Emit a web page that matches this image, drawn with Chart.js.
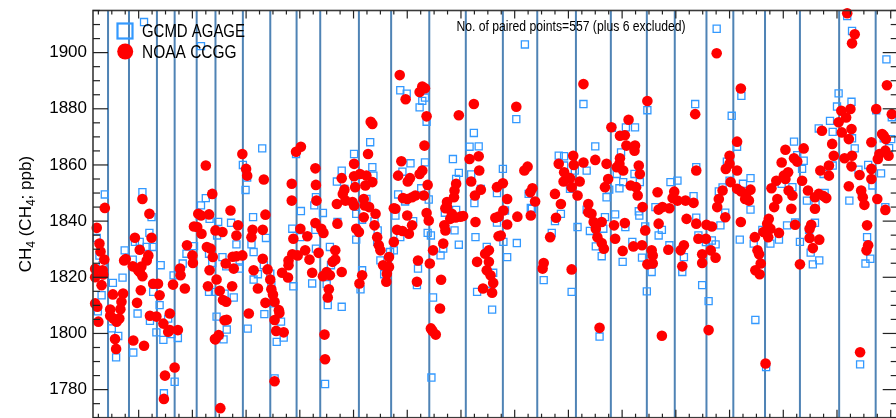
<!DOCTYPE html>
<html>
<head>
<meta charset="utf-8">
<script src="https://cdn.jsdelivr.net/npm/chart.js@4.4.1/dist/chart.umd.min.js"></script>
<style>
  html, body { margin: 0; padding: 0; overflow: hidden; background: #fff; }
  canvas { display: block; }
</style>
</head>
<body>
<canvas id="ch4" width="904" height="424"></canvas>
<script>
// Axis extents: time in decimal years, CH4 in ppb
const timeRange = [1993.15, 2008.13];
const ch4Range = [1770, 1915];
const ch4TickValues = [1780, 1800, 1820, 1840, 1860, 1880, 1900];

const seriesNames = ['GCMD AGAGE', 'NOAA CCGG'];
const pairNote = 'No. of paired points=557 (plus 6 excluded)';
const axisTitle = ['CH', '4', ' (CH', '4', '; ppb)'];

// Flask batch boundaries (decimal year)
const breakTimes = [1993.43, 1993.82, 1994.34, 1994.67, 1995.08, 1995.43, 1995.94, 1996.45,
  1996.94, 1997.38, 1998.10, 1998.70, 1999.41, 2000.09, 2000.78, 2001.42, 2002.14, 2002.79,
  2003.46, 2003.98, 2004.57, 2005.07, 2005.66, 2006.31, 2007.04, 2007.72];

// AGAGE GC-MD in situ values matched to flask sampling times [year, ppb]
const gcmdPoints = [
  [1993.22,1834.0],[1993.24,1807.9],[1993.27,1827.7],[1993.31,1813.6],[1993.33,1824.3],[1993.37,1849.5],
  [1993.50,1801.8],[1993.52,1818.0],[1993.58,1791.5],[1993.62,1799.1],[1993.70,1819.9],[1993.74,1829.6],
  [1993.89,1826.3],[1993.90,1793.2],[1993.93,1832.6],[1993.98,1807.1],[1994.02,1832.6],[1994.07,1850.3],
  [1994.10,1910.9],[1994.15,1830.8],[1994.20,1835.8],[1994.21,1804.5],[1994.24,1841.4],[1994.26,1830.8],
  [1994.27,1814.8],[1994.33,1800.4],[1994.39,1810.1],[1994.41,1824.3],[1994.46,1797.7],[1994.47,1778.7],
  [1994.55,1805.3],[1994.61,1799.8],[1994.65,1820.7],[1994.67,1782.8],[1994.73,1798.4],[1994.82,1824.9],
  [1994.89,1828.4],[1995.03,1831.1],
  [1995.14,1842.0],[1995.16,1845.6],[1995.16,1902.3],[1995.25,1848.2],[1995.31,1828.4],[1995.31,1814.8],
  [1995.32,1840.8],[1995.37,1825.1],[1995.37,1849.5],[1995.42,1814.8],[1995.45,1806.0],[1995.46,1834.9],
  [1995.48,1839.7],[1995.50,1799.4],[1995.56,1827.2],[1995.58,1797.9],[1995.60,1814.2],[1995.63,1823.9],
  [1995.64,1801.4],[1995.72,1839.4],[1995.77,1812.8],[1995.82,1831.7],[1995.88,1826.0],[1995.88,1823.1],
  [1995.94,1860.0],[1995.99,1851.1],[1996.02,1855.5],[1996.03,1801.7],
  [1996.10,1831.7],[1996.13,1841.4],[1996.14,1829.0],[1996.14,1819.2],[1996.22,1821.1],[1996.30,1865.9],
  [1996.33,1824.3],[1996.34,1806.9],[1996.37,1834.0],[1996.45,1821.3],[1996.47,1817.2],[1996.50,1810.7],
  [1996.53,1784.0],[1996.57,1797.0],[1996.65,1804.2],[1996.70,1798.5],[1996.86,1837.3],[1996.88,1816.8],
  [1996.93,1863.9],
  [1997.01,1834.3],[1997.02,1843.6],[1997.23,1817.8],[1997.27,1845.6],[1997.29,1836.9],[1997.30,1830.2],
  [1997.30,1848.5],[1997.43,1842.9],[1997.47,1782.0],[1997.50,1817.6],[1997.52,1810.1],[1997.56,1830.8],
  [1997.58,1824.3],[1997.69,1854.1],[1997.70,1839.7],[1997.78,1858.0],[1997.78,1809.5],[1997.83,1851.5],
  [1998.01,1863.9],[1998.05,1842.6],[1998.05,1833.4],[1998.03,1854.5],
  [1998.13,1815.7],[1998.16,1822.5],[1998.16,1840.5],[1998.24,1847.9],[1998.31,1868.1],[1998.35,1859.2],
  [1998.37,1856.2],[1998.39,1840.0],[1998.44,1832.6],[1998.45,1836.7],[1998.50,1826.0],[1998.57,1821.1],
  [1998.68,1829.0],[1998.75,1829.6],[1998.78,1842.0],[1998.83,1849.5],
  [1998.87,1886.6],[1998.87,1834.3],[1998.91,1857.6],[1998.96,1847.0],[1998.99,1885.4],[1999.06,1860.6],
  [1999.11,1840.0],[1999.18,1817.2],[1999.20,1823.1],[1999.23,1880.5],[1999.26,1851.7],[1999.28,1882.8],
  [1999.33,1884.0],[1999.33,1860.9],[1999.36,1875.4],[1999.38,1835.8],[1999.40,1847.7],[1999.44,1834.9],
  [1999.45,1784.3],[1999.48,1812.8],
  [1999.62,1827.8],[1999.67,1830.2],[1999.71,1837.0],[1999.70,1843.0],[1999.85,1862.1],[1999.88,1836.7],
  [1999.91,1855.0],[1999.96,1857.2],[1999.96,1831.6],[1999.91,1844.0],[2000.16,1866.5],[2000.19,1856.6],
  [2000.24,1871.4],[2000.25,1846.4],[2000.27,1834.3],[2000.30,1814.8],[2000.33,1866.6],
  [2000.37,1851.5],[2000.48,1830.8],[2000.56,1815.2],[2000.58,1808.5],[2000.60,1821.6],[2000.67,1850.0],
  [2000.67,1839.5],[2000.78,1858.6],[2000.79,1832.6],[2000.82,1843.8],[2000.86,1827.2],[2001.03,1876.3],
  [2001.04,1832.2],
  [2001.19,1902.9],[2001.26,1849.7],[2001.30,1844.7],[2001.32,1844.4],[2001.54,1819.0],[2001.69,1835.8],
  [2001.75,1840.0],[2001.82,1863.3],
  [2001.86,1842.6],[2001.92,1863.1],[2001.92,1859.8],[2002.03,1851.5],[2002.06,1814.8],[2002.12,1858.0],
  [2002.17,1837.9],[2002.28,1881.7],[2002.34,1858.0],[2002.34,1844.1],[2002.40,1836.5],[2002.50,1866.6],
  [2002.51,1831.0],[2002.58,1798.9],
  [2002.62,1827.5],[2002.65,1837.3],[2002.68,1841.4],[2002.71,1848.5],[2002.76,1851.2],[2002.81,1873.2],
  [2002.87,1842.4],[2002.90,1856.8],[2002.95,1851.7],[2002.98,1864.5],[2003.01,1825.5],[2003.02,1853.9],
  [2003.06,1837.9],[2003.07,1873.4],[2003.19,1832.6],[2003.23,1856.8],[2003.24,1873.4],[2003.31,1843.5],
  [2003.32,1842.0],[2003.33,1853.9],
  [2003.37,1827.0],[2003.43,1838.1],[2003.46,1815.0],[2003.47,1879.5],[2003.55,1821.9],[2003.62,1845.0],
  [2003.68,1834.9],[2003.74,1836.9],[2003.88,1831.4],[2003.90,1853.9],[2004.03,1854.4],
  [2004.12,1821.9],[2004.15,1827.2],[2004.33,1848.9],[2004.36,1881.7],[2004.38,1859.2],[2004.38,1841.2],
  [2004.42,1834.9],[2004.49,1817.2],[2004.56,1832.5],[2004.61,1811.5],[2004.67,1833.1],[2004.74,1831.7],
  [2004.76,1908.5],[2004.80,1850.6],
  [2004.83,1838.5],[2004.87,1852.0],[2004.92,1843.0],[2004.95,1861.2],[2005.00,1854.4],[2005.04,1877.5],
  [2005.14,1866.5],[2005.19,1833.4],[2005.22,1884.6],[2005.25,1853.3],[2005.39,1855.3],[2005.39,1844.1],
  [2005.45,1832.0],[2005.48,1804.8],
  [2005.61,1836.9],[2005.68,1788.0],[2005.76,1832.0],[2005.92,1833.4],[2005.97,1853.3],[2006.07,1838.5],
  [2006.17,1852.1],[2006.20,1868.3],[2006.22,1839.5],[2006.26,1863.5],
  [2006.31,1832.6],[2006.35,1858.6],[2006.38,1861.5],[2006.44,1847.3],[2006.48,1836.9],[2006.51,1828.8],
  [2006.55,1824.6],[2006.59,1839.4],[2006.60,1846.0],[2006.66,1873.0],[2006.67,1826.0],[2006.75,1856.8],
  [2006.77,1850.0],[2006.87,1875.7],[2006.92,1871.8],[2006.92,1859.8],[2007.00,1880.8],
  [2007.03,1885.5],[2007.19,1913.0],[2007.23,1847.3],[2007.27,1882.5],[2007.28,1907.7],[2007.28,1869.5],
  [2007.33,1865.9],[2007.40,1858.3],[2007.43,1789.0],[2007.46,1850.5],[2007.53,1824.9],[2007.56,1834.3],
  [2007.58,1860.0],[2007.62,1826.6],[2007.66,1852.7],[2007.73,1879.5],[2007.82,1857.0],[2007.87,1869.5],
  [2007.90,1845.0],[2007.92,1897.6],[2007.97,1866.0],[2008.01,1869.2],[2008.02,1877.0]
];

// NOAA CCGG flask values [year, ppb]
const ccggPoints = [
  [1993.19,1823.0],[1993.19,1820.0],[1993.19,1810.7],[1993.22,1837.6],[1993.23,1809.5],[1993.25,1804.2],
  [1993.27,1832.0],[1993.29,1829.2],[1993.31,1817.2],[1993.33,1822.5],[1993.34,1821.0],[1993.36,1826.3],
  [1993.37,1844.7],[1993.47,1808.5],[1993.47,1806.3],[1993.52,1813.9],[1993.53,1805.3],[1993.56,1798.0],
  [1993.58,1794.5],[1993.59,1804.2],[1993.64,1805.3],[1993.66,1808.6],[1993.68,1811.3],[1993.71,1814.2],
  [1993.73,1826.0],[1993.76,1826.5],
  [1993.89,1823.9],[1993.90,1797.5],[1993.93,1834.1],[1993.97,1810.9],[1993.99,1822.5],[1994.02,1829.8],
  [1994.02,1821.9],[1994.04,1815.4],[1994.05,1823.8],[1994.07,1820.4],[1994.07,1847.9],[1994.10,1795.6],
  [1994.15,1826.0],[1994.18,1827.8],[1994.20,1842.6],[1994.21,1806.3],[1994.24,1834.1],[1994.27,1817.7],
  [1994.33,1806.0],[1994.36,1817.7],[1994.39,1813.6],[1994.46,1803.5],[1994.49,1785.0],[1994.47,1776.7],
  [1994.55,1800.6],[1994.58,1807.1],[1994.58,1801.2],[1994.64,1817.4],[1994.67,1787.9],[1994.73,1801.2],
  [1994.77,1823.1],[1994.78,1820.7],[1994.86,1816.0],[1994.90,1831.4],[1995.00,1827.8],[1995.01,1825.1],
  [1995.03,1838.1],
  [1995.09,1837.9],[1995.11,1842.6],[1995.16,1842.0],[1995.17,1835.5],[1995.25,1859.8],[1995.27,1830.8],
  [1995.29,1816.8],[1995.31,1842.4],[1995.32,1822.5],[1995.34,1830.2],[1995.37,1849.7],[1995.38,1827.2],
  [1995.42,1798.0],[1995.43,1836.7],[1995.43,1797.9],[1995.45,1819.2],[1995.49,1799.4],[1995.51,1815.2],
  [1995.52,1773.4],[1995.56,1836.1],[1995.57,1811.9],[1995.60,1804.7],[1995.62,1824.9],[1995.63,1811.3],
  [1995.64,1804.9],[1995.71,1843.8],[1995.75,1827.3],[1995.77,1823.1],[1995.74,1816.8],[1995.82,1834.9],
  [1995.82,1827.5],[1995.85,1838.5],[1995.93,1827.8],[1995.93,1863.9],
  [1996.00,1858.6],[1996.02,1856.2],[1996.05,1807.1],[1996.10,1834.3],[1996.12,1836.9],[1996.14,1822.5],
  [1996.22,1816.0],[1996.31,1836.9],[1996.31,1826.6],[1996.33,1854.8],[1996.36,1810.9],[1996.36,1842.3],
  [1996.40,1822.8],[1996.45,1819.2],[1996.47,1815.7],[1996.50,1813.9],[1996.53,1811.3],[1996.53,1783.0],
  [1996.53,1804.8],[1996.56,1800.9],[1996.61,1808.3],[1996.62,1807.3],[1996.67,1821.6],[1996.70,1800.4],
  [1996.78,1819.9],[1996.79,1826.0],[1996.79,1824.3],[1996.85,1853.3],[1996.85,1847.3],[1996.86,1828.2],
  [1996.88,1833.7],[1996.93,1864.7],[1996.96,1827.8],
  [1997.01,1837.3],[1997.02,1866.5],[1997.10,1829.6],[1997.14,1834.6],[1997.18,1826.3],[1997.23,1821.6],
  [1997.29,1839.3],[1997.29,1858.8],[1997.30,1852.9],[1997.31,1847.3],[1997.35,1828.7],[1997.40,1837.3],
  [1997.43,1820.4],[1997.44,1835.8],[1997.46,1799.6],[1997.47,1790.8],[1997.50,1821.9],[1997.52,1812.8],
  [1997.54,1815.7],[1997.56,1820.7],[1997.61,1825.5],[1997.66,1826.3],[1997.66,1829.6],[1997.69,1846.1],
  [1997.70,1839.1],[1997.78,1821.9],[1997.78,1855.3],[1997.80,1849.7],[1997.83,1851.2],[1997.85,1847.3],
  [1997.98,1846.8],[1998.01,1860.4],[1998.01,1856.0],[1998.03,1852.1],[1998.01,1845.6],[1998.05,1837.3],
  [1998.11,1817.8],[1998.10,1836.1],
  [1998.12,1856.8],[1998.16,1820.7],[1998.19,1841.4],[1998.19,1847.9],[1998.21,1845.6],[1998.22,1852.7],
  [1998.24,1856.2],[1998.27,1863.9],[1998.29,1845.0],[1998.32,1875.4],[1998.35,1874.6],[1998.35,1853.9],
  [1998.39,1838.5],[1998.41,1842.6],[1998.44,1834.3],[1998.47,1831.4],[1998.50,1829.6],[1998.55,1824.3],
  [1998.61,1818.4],[1998.62,1821.3],[1998.66,1823.7],[1998.66,1827.2],[1998.75,1832.6],[1998.75,1844.6],
  [1998.78,1844.4],[1998.81,1836.9],[1998.83,1856.2],
  [1998.86,1892.0],[1998.89,1861.3],[1998.91,1836.5],[1998.92,1848.2],[1998.97,1883.4],[1999.00,1842.0],
  [1999.00,1847.9],[1999.01,1854.1],[1999.03,1835.5],[1999.05,1855.3],[1999.09,1848.5],[1999.09,1838.5],
  [1999.15,1849.1],[1999.18,1818.4],[1999.20,1826.0],[1999.23,1886.0],[1999.23,1856.8],[1999.28,1887.9],
  [1999.28,1858.0],[1999.31,1849.1],[1999.32,1866.9],[1999.33,1887.3],[1999.36,1877.3],[1999.36,1842.9],
  [1999.38,1852.9],[1999.40,1840.2],[1999.42,1824.9],[1999.44,1801.8],[1999.47,1800.9],[1999.48,1829.6],
  [1999.53,1799.6],
  [1999.61,1808.9],[1999.63,1819.1],[1999.67,1832.0],[1999.69,1838.5],[1999.71,1836.7],[1999.71,1844.6],
  [1999.74,1845.0],[1999.74,1846.8],[1999.80,1840.8],[1999.83,1842.6],[1999.87,1848.5],[1999.88,1850.9],
  [1999.90,1841.3],[1999.91,1853.3],[1999.96,1877.7],[1999.99,1841.6],[2000.04,1841.8],[2000.16,1862.1],
  [2000.19,1854.1],[2000.24,1881.7],[2000.26,1849.1],[2000.27,1839.7],[2000.30,1825.5],[2000.33,1863.1],
  [2000.34,1858.0],[2000.37,1851.2],[2000.41,1816.0],[2000.45,1828.4],[2000.48,1822.5],[2000.52,1829.6],
  [2000.52,1825.5],[2000.55,1820.7],[2000.58,1814.5],[2000.60,1818.0],[2000.64,1841.2],[2000.67,1852.1],
  [2000.70,1841.6],[2000.70,1834.6],[2000.74,1834.9],[2000.78,1853.5],[2000.79,1843.8],[2000.86,1847.9],
  [2000.86,1838.8],[2001.03,1880.7],[2001.05,1841.6],
  [2001.18,1858.0],[2001.24,1859.4],[2001.29,1850.3],[2001.30,1842.0],[2001.33,1851.7],[2001.38,1847.0],
  [2001.52,1823.1],[2001.54,1825.1],[2001.66,1834.3],[2001.75,1849.7],[2001.77,1841.2],[2001.82,1860.4],
  [2001.86,1846.1],[2001.91,1854.1],[2001.92,1857.4],[2002.03,1855.3],[2002.06,1852.1],[2002.06,1822.8],
  [2002.09,1863.3],[2002.10,1860.0],[2002.17,1849.1],[2002.21,1854.1],[2002.28,1888.8],[2002.28,1860.9],
  [2002.37,1846.1],[2002.37,1843.2],[2002.43,1842.6],[2002.47,1839.7],[2002.50,1861.8],[2002.51,1837.3],
  [2002.54,1834.3],
  [2002.58,1802.0],[2002.62,1832.2],[2002.62,1839.7],[2002.66,1830.2],[2002.68,1852.1],[2002.71,1860.4],
  [2002.74,1855.0],[2002.80,1873.4],[2002.85,1838.5],[2002.87,1833.7],[2002.90,1859.2],[2002.95,1860.4],
  [2002.96,1862.4],[2002.96,1870.4],[2003.01,1829.4],[2003.02,1858.0],[2003.05,1870.6],[2003.05,1839.3],
  [2003.08,1866.9],[2003.12,1876.1],[2003.16,1852.7],[2003.21,1831.0],[2003.23,1865.1],[2003.24,1866.9],
  [2003.26,1852.1],[2003.29,1849.1],[2003.31,1859.8],[2003.33,1856.8],
  [2003.37,1831.4],[2003.38,1845.0],[2003.43,1836.7],[2003.47,1882.8],[2003.47,1824.6],[2003.55,1829.6],
  [2003.57,1827.8],[2003.57,1824.9],[2003.66,1850.3],[2003.68,1844.1],[2003.68,1839.1],[2003.74,1799.2],
  [2003.75,1845.0],[2003.86,1829.8],[2003.88,1844.6],[2003.94,1848.2],[2003.97,1850.5],[2004.03,1847.3],
  [2004.09,1829.6],[2004.12,1823.9],[2004.15,1831.4],[2004.18,1847.3],[2004.20,1840.8],[2004.33,1846.5],
  [2004.36,1878.1],[2004.38,1858.0],[2004.38,1839.1],[2004.42,1833.7],[2004.49,1828.2],[2004.49,1825.1],
  [2004.56,1833.7],[2004.57,1838.7],[2004.61,1801.2],[2004.65,1829.6],[2004.67,1838.1],[2004.74,1827.0],
  [2004.76,1899.8],[2004.77,1845.0],[2004.80,1847.9],
  [2004.87,1850.9],[2004.92,1841.4],[2004.93,1858.6],[2005.00,1863.3],[2005.00,1860.4],[2005.02,1853.9],
  [2005.14,1868.3],[2005.14,1858.0],[2005.14,1851.5],[2005.21,1887.2],[2005.21,1850.6],[2005.21,1839.7],
  [2005.29,1847.9],[2005.31,1849.7],[2005.36,1847.3],[2005.39,1851.2],[2005.47,1834.3],[2005.48,1822.5],
  [2005.52,1829.6],
  [2005.55,1828.2],[2005.56,1821.1],[2005.58,1824.9],[2005.63,1836.1],[2005.67,1789.3],[2005.70,1839.1],
  [2005.72,1834.3],[2005.73,1840.8],[2005.76,1837.3],[2005.78,1851.7],[2005.83,1845.0],[2005.87,1854.4],
  [2005.89,1847.9],[2005.92,1835.8],[2005.97,1860.9],[2006.01,1856.2],[2006.04,1865.4],[2006.04,1855.0],
  [2006.09,1857.4],[2006.10,1850.9],[2006.15,1844.4],[2006.17,1849.1],[2006.20,1862.4],[2006.22,1838.7],
  [2006.26,1861.2],
  [2006.31,1824.6],[2006.35,1854.4],[2006.38,1865.9],[2006.46,1850.9],[2006.49,1837.3],[2006.49,1834.0],
  [2006.52,1838.7],[2006.55,1830.4],[2006.59,1848.5],[2006.59,1844.4],[2006.66,1849.7],[2006.67,1833.4],
  [2006.69,1858.0],[2006.72,1872.2],[2006.75,1848.9],[2006.80,1848.2],[2006.85,1856.2],[2006.85,1859.8],
  [2006.91,1867.5],[2006.94,1863.3],
  [2007.03,1875.2],[2007.08,1879.3],[2007.09,1871.6],[2007.14,1862.4],[2007.17,1876.9],[2007.19,1914.0],
  [2007.22,1869.2],[2007.22,1852.4],[2007.25,1879.9],[2007.27,1872.8],[2007.27,1859.5],[2007.28,1863.3],
  [2007.28,1903.3],[2007.33,1906.5],[2007.42,1856.4],[2007.43,1793.3],[2007.45,1850.9],[2007.48,1848.5],
  [2007.51,1845.8],[2007.56,1838.5],[2007.55,1829.6],[2007.58,1831.4],[2007.64,1868.1],[2007.64,1858.6],
  [2007.64,1855.0],[2007.73,1879.9],[2007.75,1847.9],[2007.76,1862.1],[2007.79,1863.9],[2007.84,1871.0],
  [2007.87,1870.4],[2007.90,1865.1],[2007.90,1844.0],[2007.91,1869.2],[2007.93,1888.4],[2007.96,1863.3],
  [2008.02,1878.1]
];

const COLORS = {
  gcmd: '#3399ff',
  ccgg: '#ff0000',
  breaks: '#4f83b5',
  frame: '#3a3a3a',
  text: '#000000'
};
const FONT = '"Liberation Sans", Arial, Helvetica, sans-serif';

// IDL-style lettering is a little narrower than Arial
function drawNarrowText(ctx, text, x, y, size, squeeze, align) {
  ctx.save();
  ctx.font = size + 'px ' + FONT;
  const w = ctx.measureText(text).width * squeeze;
  const startX = align === 'center' ? x - w / 2 : x;
  ctx.translate(startX, y);
  ctx.scale(squeeze, 1);
  ctx.fillStyle = COLORS.text;
  ctx.textAlign = 'left';
  ctx.textBaseline = 'alphabetic';
  ctx.fillText(text, 0, 0);
  ctx.restore();
}

const batchLines = {
  id: 'batchLines',
  beforeDatasetsDraw(chart) {
    const { ctx, chartArea: a, scales: { x } } = chart;
    ctx.save();
    ctx.strokeStyle = COLORS.breaks;
    ctx.lineWidth = 2;
    breakTimes.forEach(t => {
      const px = x.getPixelForValue(t);
      ctx.beginPath();
      ctx.moveTo(px, a.top);
      ctx.lineTo(px, a.bottom);
      ctx.stroke();
    });
    ctx.restore();
  }
};

const frameAndKey = {
  id: 'frameAndKey',
  afterDraw(chart) {
    const { ctx, chartArea: a, scales: { x, y } } = chart;
    const seg = (x1, y1, x2, y2) => { ctx.beginPath(); ctx.moveTo(x1, y1); ctx.lineTo(x2, y2); ctx.stroke(); };
    ctx.save();

    // box
    ctx.strokeStyle = COLORS.frame;
    ctx.lineWidth = 1.6;
    ctx.strokeRect(a.left, a.top, a.right - a.left, a.bottom - a.top);

    // inward ticks: ppb every 5 (long at labelled values), time every quarter year
    ctx.lineWidth = 1.2;
    ctx.strokeStyle = '#222';
    for (let v = ch4Range[0]; v <= ch4Range[1]; v += 5) {
      const py = y.getPixelForValue(v);
      const len = v % 20 === 0 ? 15 : 7;
      seg(a.left, py, a.left + len, py);
      seg(a.right, py, a.right - len, py);
    }
    for (let q = Math.ceil(timeRange[0] * 4); q <= Math.floor(timeRange[1] * 4); q++) {
      const px = x.getPixelForValue(q / 4);
      const len = q % 4 === 0 ? 8 : 4;
      seg(px, a.top, px, a.top + len);
      seg(px, a.bottom, px, a.bottom - len);
    }

    // y-axis title with subscripts
    ctx.save();
    ctx.translate(25, (a.top + a.bottom) / 2);
    ctx.rotate(-Math.PI / 2);
    const big = '17px ' + FONT, small = '12px ' + FONT;
    let total = 0;
    axisTitle.forEach((s, i) => { ctx.font = i % 2 ? small : big; total += ctx.measureText(s).width; });
    let cx = -total / 2;
    ctx.fillStyle = COLORS.text;
    ctx.textBaseline = 'alphabetic';
    axisTitle.forEach((s, i) => {
      ctx.font = i % 2 ? small : big;
      ctx.fillText(s, cx, i % 2 ? 10 : 6);
      cx += ctx.measureText(s).width;
    });
    ctx.restore();

    // key
    ctx.strokeStyle = COLORS.gcmd;
    ctx.lineWidth = 2.2;
    ctx.strokeRect(117.5, 23.5, 15, 15);
    ctx.fillStyle = COLORS.ccgg;
    ctx.beginPath();
    ctx.arc(125.2, 51.5, 8, 0, Math.PI * 2);
    ctx.fill();
    drawNarrowText(ctx, seriesNames[0], 142, 36.5, 18, 0.83, 'left');
    drawNarrowText(ctx, seriesNames[1], 142, 57.5, 18, 0.86, 'left');

    // pair count note
    drawNarrowText(ctx, pairNote, 571, 31, 14, 0.87, 'center');

    ctx.restore();
  }
};

new Chart(document.getElementById('ch4'), {
  type: 'scatter',
  data: {
    datasets: [
      {
        label: seriesNames[0],
        data: gcmdPoints.map(([t, v]) => ({ x: t, y: v })),
        pointStyle: 'rect',
        pointRadius: 5,
        borderWidth: 1.3,
        borderColor: COLORS.gcmd,
        backgroundColor: 'rgba(255,255,255,0)',
        order: 1,
        clip: false
      },
      {
        label: seriesNames[1],
        data: ccggPoints.map(([t, v]) => ({ x: t, y: v })),
        pointStyle: 'circle',
        pointRadius: 5.3,
        borderWidth: 0,
        borderColor: COLORS.ccgg,
        backgroundColor: COLORS.ccgg,
        order: 0,
        clip: false
      }
    ]
  },
  options: {
    responsive: false,
    animation: false,
    events: [],
    layout: { padding: { left: 0, top: 10.5, right: 4, bottom: 4.5 } },
    plugins: { legend: { display: false }, tooltip: { enabled: false } },
    scales: {
      x: {
        type: 'linear',
        min: timeRange[0],
        max: timeRange[1],
        display: false
      },
      y: {
        type: 'linear',
        min: ch4Range[0],
        max: ch4Range[1],
        afterBuildTicks: s => { s.ticks = ch4TickValues.map(v => ({ value: v })); },
        afterFit: s => { s.width = 93; s.paddingTop = 0; s.paddingBottom = 0; },
        grid: { display: false, drawTicks: false },
        border: { display: false },
        ticks: {
          padding: 6,
          color: COLORS.text,
          font: { family: FONT, size: 17 },
          callback: v => String(v)
        }
      }
    }
  },
  plugins: [batchLines, frameAndKey]
});
</script>
</body>
</html>
